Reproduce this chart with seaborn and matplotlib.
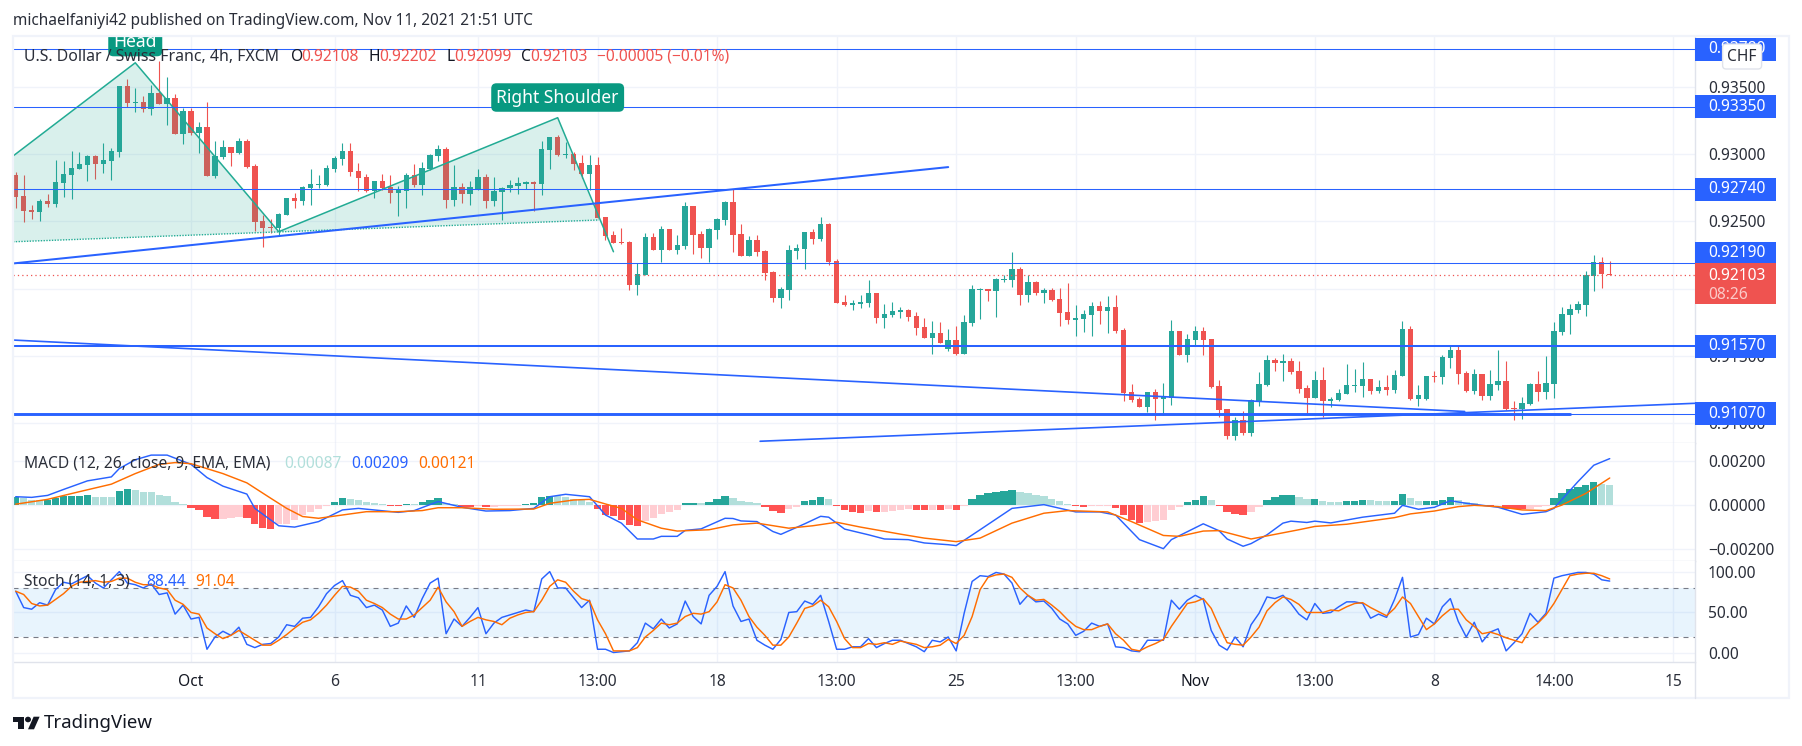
import numpy as np
import pandas as pd
import matplotlib
matplotlib.use("Agg")
import matplotlib.pyplot as plt
from matplotlib.lines import Line2D
from matplotlib.patches import Rectangle, Polygon, Ellipse, FancyBboxPatch
import seaborn as sns

# candles (4h bars)
opens = [
    .92847, .92689, .92585, .92570, .92651, .92629, .92785, .92844, .92889, .92919,
    .92986, .92926, .92948, .93015, .93506, .93379, .93387, .93335, .93454, .93372,
    .93416, .93149, .93320, .93156, .93201, .92837, .92978, .93052, .93008, .93097,
    .92911, .92503, .92458, .92451, .92547, .92674, .92651, .92748, .92770, .92770,
    .92889, .92963, .93022, .92874, .92829, .92725, .92800, .92755, .92710, .92725,
    .92844, .92770, .92889, .92985, .93037, .92658, .92755, .92703, .92740, .92829,
    .92651, .92718, .92748, .92762, .92777, .92792, .92777, .93030, .93126, .92995,
    .93000, .92933, .92852, .92918, .92532, .92398, .92346, .92346, .92027, .92101,
    .92383, .92287, .92443, .92287, .92316, .92614, .92406, .92302, .92435, .92510,
    .92643, .92406, .92242, .92361, .92279, .92123, .91930, .91990, .92279, .92294,
    .92420, .92368, .92480, .92205, .91900, .91878, .91886, .91893, .91967, .91782,
    .91804, .91826, .91841, .91796, .91715, .91633, .91670, .91551, .91618, .91514,
    .91744, .91990, .91997, .91982, .92064, .92064, .92146, .91952, .92049, .91967,
    .91990, .91923, .91826, .91767, .91774, .91804, .91871, .91834, .91863, .91692,
    .91232, .91180, .91121, .91232, .91180, .91187, .91685, .91507, .91618, .91685,
    .91626, .91276, .91106, .90905, .91024, .90928, .91165, .91284, .91470, .91448,
    .91462, .91388, .91262, .91188, .91321, .91165, .91173, .91217, .91277, .91277,
    .91329, .91240, .91269, .91247, .91351, .91700, .91180, .91180, .91351, .91344,
    .91485, .91544, .91373, .91240, .91366, .91202, .91284, .91314, .91113, .91106,
    .91141, .91291, .91232, .91291, .91678, .91804, .91841, .91878, .92094, .92195, .92108,
]
highs = [
    .92867, .92844, .92622, .92664, .92701, .92956, .92948, .93020, .93013, .92991,
    .92993, .93080, .93043, .93506, .93558, .93491, .93431, .93513, .93691, .93572,
    .93446, .93340, .93340, .93238, .93387, .93097, .93104, .93052, .93119, .93112,
    .92926, .92547, .92518, .92562, .92674, .92711, .92763, .92889, .92844, .92918,
    .92985, .93082, .93082, .92933, .92852, .92800, .92852, .92844, .92762, .92859,
    .92926, .92941, .93000, .93067, .93052, .92918, .92785, .92800, .92889, .92852,
    .92829, .92755, .92807, .92829, .92800, .92800, .93097, .93126, .93141, .93089,
    .93015, .92993, .92993, .92978, .92532, .92428, .92450, .92354, .92190, .92413,
    .92413, .92465, .92443, .92398, .92643, .92614, .92428, .92450, .92524, .92651,
    .92740, .92480, .92391, .92398, .92287, .92131, .92012, .92324, .92331, .92420,
    .92443, .92532, .92487, .92220, .91952, .91915, .91952, .92064, .91967, .91886,
    .91900, .91863, .91848, .91826, .91782, .91759, .91752, .91700, .91722, .91804,
    .92027, .92004, .91997, .92079, .92101, .92272, .92160, .92101, .92056, .92004,
    .92004, .92004, .92042, .91878, .91841, .91900, .91908, .91945, .91952, .91707,
    .91291, .91195, .91232, .91254, .91299, .91767, .91685, .91663, .91722, .91715,
    .91626, .91321, .91106, .91047, .91091, .91180, .91381, .91507, .91485, .91515,
    .91485, .91462, .91284, .91388, .91418, .91195, .91255, .91440, .91403, .91455,
    .91329, .91321, .91358, .91396, .91760, .91722, .91284, .91351, .91388, .91507,
    .91574, .91581, .91388, .91403, .91366, .91396, .91544, .91462, .91165, .91195,
    .91297, .91388, .91499, .91752, .91863, .91886, .91908, .92131, .92250, .92235, .92202,
]
lows = [
    .92602, .92498, .92518, .92505, .92609, .92609, .92684, .92669, .92889, .92802,
    .92815, .92859, .92810, .92981, .93350, .93312, .93312, .93290, .93372, .93216,
    .93149, .93075, .93142, .93008, .92837, .92822, .92963, .92911, .93001, .92896,
    .92428, .92310, .92414, .92399, .92547, .92599, .92622, .92621, .92748, .92762,
    .92866, .92918, .92837, .92725, .92718, .92673, .92733, .92636, .92540, .92599,
    .92755, .92696, .92881, .92948, .92599, .92614, .92636, .92621, .92733, .92599,
    .92614, .92510, .92718, .92703, .92740, .92577, .92696, .92889, .92985, .92970,
    .92881, .92822, .92733, .92525, .92361, .92339, .92331, .91990, .91952, .92101,
    .92287, .92198, .92287, .92257, .92294, .92257, .92227, .92198, .92368, .92472,
    .92272, .92242, .92242, .92242, .92064, .91900, .91856, .91915, .92220, .92146,
    .92331, .92354, .92175, .91893, .91871, .91841, .91856, .91863, .91744, .91707,
    .91789, .91782, .91759, .91655, .91633, .91514, .91596, .91537, .91507, .91514,
    .91722, .91774, .91908, .91789, .92049, .92012, .91878, .91900, .91952, .91893,
    .91908, .91722, .91737, .91648, .91678, .91648, .91737, .91670, .91670, .91165,
    .91158, .91121, .91083, .91024, .91061, .91135, .91507, .91455, .91574, .91507,
    .91262, .91046, .90883, .90876, .90913, .90905, .91128, .91277, .91388, .91314,
    .91366, .91225, .91061, .91188, .91047, .91121, .91165, .91217, .91232, .91195,
    .91217, .91225, .91210, .91225, .91351, .91173, .91128, .91173, .91306, .91292,
    .91410, .91292, .91232, .91217, .91173, .91173, .91247, .91099, .91024, .91032,
    .91135, .91165, .91180, .91187, .91655, .91663, .91819, .91796, .91982, .92004, .92099,
]
closes = [
    .92684, .92577, .92572, .92649, .92632, .92792, .92852, .92896, .92926, .92986,
    .92926, .92956, .93023, .93506, .93379, .93387, .93335, .93454, .93372, .93416,
    .93149, .93320, .93156, .93201, .92837, .92986, .93052, .93008, .93097, .92904,
    .92495, .92451, .92451, .92555, .92674, .92651, .92755, .92777, .92777, .92896,
    .92970, .93022, .92866, .92822, .92725, .92800, .92748, .92710, .92733, .92844,
    .92770, .92896, .92993, .93037, .92658, .92755, .92703, .92755, .92829, .92651,
    .92725, .92748, .92770, .92785, .92792, .92777, .93037, .93126, .92993, .93000,
    .92926, .92852, .92918, .92525, .92391, .92339, .92339, .92027, .92109, .92383,
    .92287, .92443, .92287, .92324, .92614, .92398, .92302, .92443, .92517, .92643,
    .92398, .92242, .92361, .92272, .92116, .91930, .91997, .92287, .92302, .92420,
    .92368, .92480, .92198, .91893, .91878, .91893, .91900, .91967, .91782, .91811,
    .91834, .91841, .91789, .91707, .91633, .91670, .91596, .91618, .91514, .91752,
    .91997, .91997, .91982, .92071, .92071, .92146, .91952, .92049, .91967, .91990,
    .91915, .91819, .91767, .91782, .91811, .91871, .91834, .91863, .91685, .91225,
    .91173, .91121, .91232, .91180, .91195, .91685, .91507, .91626, .91685, .91618,
    .91269, .91098, .90905, .91024, .90928, .91173, .91292, .91470, .91448, .91462,
    .91381, .91255, .91188, .91321, .91165, .91180, .91225, .91284, .91284, .91329,
    .91240, .91269, .91247, .91358, .91700, .91180, .91210, .91351, .91344, .91492,
    .91544, .91366, .91240, .91366, .91202, .91292, .91314, .91106, .91106, .91151,
    .91291, .91232, .91299, .91685, .91811, .91848, .91886, .92101, .92195, .92106, .92103,
]

# MACD, in units of 0.00001
macd_hist = [
    33, 30, 21, 20, 21, 30, 39, 41, 41, 44,
    36, 35, 33, 60, 69, 66, 59, 57, 45, 41,
    14, 3, -15, -23, -56, -65, -63, -60, -57, -60,
    -86, -105, -110, -90, -86, -71, -45, -33, -18, -8,
    14, 30, 24, 20, 12, 8, 3, -5, -6, 3,
    2, 11, 21, 30, 8, 5, -11, -12, -6, -12,
    -9, -8, -6, -5, 3, 8, 36, 39, 38, 35,
    27, 21, 12, -21, -45, -51, -71, -93, -98, -75,
    -60, -42, -35, -26, 6, 7, 6, 11, 24, 39,
    29, 15, 12, 8, -12, -30, -39, -21, -9, 15,
    23, 33, 24, -6, -26, -35, -36, -30, -35, -33,
    -30, -26, -21, -23, -26, -24, -26, -21, -23, -8,
    24, 42, 51, 57, 63, 68, 59, 54, 45, 38,
    27, 17, 3, -6, -11, -8, -6, -5, -15, -45,
    -68, -83, -80, -75, -69, -24, -9, 14, 23, 38,
    20, -5, -35, -41, -48, -33, -12, 20, 33, 42,
    44, 35, 26, 27, 15, 14, 12, 17, 18, 20,
    19, 18, 15, 18, 48, 29, 15, 17, 18, 23,
    33, 23, 12, 9, -5, -6, -3, -18, -20, -21,
    -18, -11, -8, 29, 51, 71, 78, 90, 101, 96, 87,
]
macd_bars = [0, 2, 4, 6, 9, 12, 13, 15, 17, 19, 22, 24, 26, 29, 30, 33, 35, 38, 41, 43,
             48, 50, 53, 56, 59, 62, 65, 67, 69, 72, 74, 76, 78, 80, 81, 83, 84, 86, 89,
             90, 91, 93, 95, 96, 99, 101, 102, 104, 107, 109, 112, 114, 117, 118, 121,
             125, 129, 133, 136, 138, 141, 144, 145, 149, 151, 152, 154, 155, 157, 159,
             160, 162, 163, 165, 169, 173, 174, 176, 178, 180, 182, 186, 189, 192, 193,
             196, 198, 200]
macd_line = [36, 33, 42, 69, 108, 126, 164, 204, 225, 225, 183, 123, 84, 48, -17, -96, -102,
             -77, -24, -17, -35, -27, 14, -12, -29, -27, -17, 36, 47, 36, -47, -84, -156,
             -156, -144, -144, -117, -110, -62, -63, -74, -77, -122, -135, -87, -53, -57,
             -111, -137, -156, -159, -174, -182, -186, -114, -17, 0, -33, -33, -47, -159,
             -200, -159, -87, -119, -156, -189, -177, -137, -84, -75, -81, -75, -83, -57,
             -39, -3, -21, -12, 18, 6, -12, -44, -32, -17, 104, 179, 209]
signal_bars = [0, 4, 8, 12, 15, 18, 20, 22, 26, 29, 32, 34, 36, 38, 41, 44, 48, 51, 53, 56,
               60, 65, 67, 70, 72, 74, 76, 78, 81, 83, 87, 90, 93, 97, 100, 103, 106, 111,
               114, 118, 121, 125, 129, 132, 137, 140, 144, 146, 149, 151, 155, 161, 163,
               167, 173, 175, 178, 181, 183, 186, 189, 192, 194, 197, 200]
signal_line = [2, 24, 59, 93, 141, 183, 191, 186, 141, 99, 29, -17, -54, -62, -47, -32, -32,
               -27, -14, -14, -21, -20, 6, 21, 24, 3, -17, -69, -107, -120, -114, -92, -84,
               -107, -96, -80, -102, -134, -152, -168, -152, -84, -39, -27, -33, -77, -140,
               -144, -120, -118, -156, -114, -99, -89, -59, -42, -29, -9, -3, -9, -24, -27,
               -2, 51, 121]

# stochastic
stoch_k = [
    76, 56, 54, 62, 59, 78, 87, 85, 90, 95,
    86, 80, 90, 100, 86, 84, 80, 85, 72, 74,
    48, 59, 42, 44, 5, 20, 27, 22, 32, 11,
    7, 11, 12, 20, 35, 33, 43, 44, 57, 73,
    83, 89, 71, 68, 56, 59, 53, 33, 37, 58,
    44, 67, 86, 92, 24, 42, 33, 44, 56, 24,
    37, 44, 47, 50, 53, 51, 91, 100, 80, 80,
    68, 56, 65, 5, 5, 1, 2, 3, 13, 37,
    30, 42, 31, 36, 64, 45, 36, 71, 82, 100,
    58, 39, 42, 16, 10, 5, 17, 50, 51, 64,
    60, 71, 39, 5, 5, 8, 8, 18, 7, 12,
    16, 16, 12, 8, 2, 16, 14, 20, 3, 49,
    88, 95, 94, 99, 97, 86, 60, 71, 63, 64,
    55, 42, 36, 22, 27, 37, 33, 36, 8, 7,
    3, 2, 16, 16, 16, 65, 54, 65, 71, 66,
    28, 10, 4, 20, 8, 35, 49, 69, 67, 71,
    61, 48, 41, 61, 49, 50, 57, 63, 63, 61,
    43, 48, 44, 66, 93, 20, 23, 43, 36, 57,
    67, 39, 20, 38, 14, 26, 30, 3, 13, 24,
    49, 38, 49, 92, 95, 97, 99, 99, 97, 90, 88.44,
]
stoch_d = [
    76, 72, 61, 58, 59, 66, 73, 82, 87, 88,
    89, 87, 88, 92, 92, 87, 84, 84, 80, 78,
    65, 60, 50, 48, 31, 24, 18, 22, 28, 22,
    16, 10, 10, 16, 23, 31, 38, 41, 49, 59,
    71, 82, 81, 76, 65, 61, 56, 48, 42, 42,
    47, 56, 65, 81, 63, 51, 33, 39, 44, 41,
    39, 35, 43, 47, 50, 51, 65, 82, 90, 87,
    76, 67, 64, 41, 24, 3, 3, 3, 7, 20,
    28, 37, 35, 37, 45, 49, 48, 51, 63, 84,
    80, 65, 45, 32, 22, 10, 10, 20, 37, 55,
    58, 65, 57, 39, 18, 7, 7, 12, 11, 13,
    11, 15, 13, 11, 7, 8, 10, 17, 12, 22,
    45, 78, 93, 96, 97, 93, 80, 71, 65, 66,
    59, 51, 41, 33, 29, 29, 33, 36, 24, 16,
    5, 3, 8, 12, 17, 33, 47, 61, 63, 67,
    55, 33, 13, 11, 10, 20, 32, 52, 62, 69,
    66, 60, 50, 50, 50, 53, 52, 57, 61, 62,
    56, 51, 46, 55, 69, 61, 45, 29, 36, 46,
    54, 54, 41, 33, 24, 26, 23, 19, 16, 13,
    29, 37, 47, 61, 78, 95, 97, 98, 98, 95, 91.04,
]

# chart furniture
level_prices = [.93780, .93350, .92740, .92190, .91570, .91070]
level_labels = ["0.93780", "0.93350", "0.92740", "0.92190", "0.91570", "0.91070"]
level_widths = [0.75, 0.75, 0.75, 0.75, 1.45, 0.75]
# the 0.92190 tag gets pushed up by the last price tag
tag_shift_px = [0, 0, 0, 10, 0, 0]
price_ticks = [.935, .93, .925, .92, .915, .91]
price_ticklabels = ["0.93500", "0.93000", "0.92500", "0.92000", "0.91500", "0.91000"]
macd_ticks = [.002, 0, -.002]
macd_ticklabels = ["0.00200", "0.00000", "\u22120.00200"]
stoch_ticks = [100, 50, 0]
stoch_ticklabels = ["100.00", "50.00", "0.00"]
time_ticks = [22, 40, 58, 73, 88, 103, 118, 133, 148, 163, 178, 193, 208]
time_labels = ["Oct", "6", "11", "13:00", "18", "13:00", "25", "13:00", "Nov", "13:00", "8", "14:00", "15"]

pattern_bars = [-0.34, 15, 33, 68, 73.2]
pattern_prices = [.92985, .93678, .92423, .93270, .92510]
pattern_end = (75, .92274)
neckline_bars = [-0.34, 73.2]
neckline_prices = [.92348, .92510]
trend_a = ([-0.34, 117], [.92187, .92903])
trend_b = ([-0.34, 181.8], [.91618, .91087])
trend_c = ([93.4, 210.7], [.90866, .91148])

BLUE = "#2962ff"
GREEN = "#26a69a"
RED = "#ef5350"
TEAL = "#22ab94"
ORANGE = "#ff6d00"
INK = "#131722"
GRID = "#f0f3fa"
EDGE = "#e0e3eb"

sns.set_theme(style="white")
plt.rcParams["font.family"] = ["Noto Sans", "DejaVu Sans"]

W, H = 1802, 746
fig = plt.figure(figsize=(W / 100, H / 100), dpi=100, facecolor="white")


def pane(left, top, right, bottom, **kw):
    return fig.add_axes([left / W, 1 - bottom / H, (right - left) / W, (bottom - top) / H], **kw)


def fx(x):
    return x / W


def fy(y):
    return 1 - y / H


def ftext(x, y, s, **kw):
    kw.setdefault("fontsize", 11.2)
    kw.setdefault("color", INK)
    kw.setdefault("va", "center")
    return fig.text(fx(x), fy(y), s, **kw)


ax = pane(13, 36, 1695, 443)
ax_macd = pane(13, 443, 1695, 561, sharex=ax)
ax_stoch = pane(13, 561, 1695, 662, sharex=ax)

bars = np.arange(len(closes))
o, h, l, c = map(np.array, (opens, highs, lows, closes))
up = c >= o

# candles
ax.vlines(bars, l, h, colors=np.where(up, GREEN, RED), linewidth=0.8, zorder=2)
ax.bar(bars, np.abs(c - o), bottom=np.minimum(o, c), width=0.68,
       color=np.where(up, GREEN, RED), linewidth=0, zorder=3)

# head and shoulders drawing
ax.fill(pattern_bars + neckline_bars[:1], pattern_prices + neckline_prices[:1],
        color=TEAL, alpha=0.17, linewidth=0, zorder=4)
ax.plot(pattern_bars[:4] + [pattern_end[0]], pattern_prices[:4] + [pattern_end[1]],
        color=TEAL, linewidth=1.1, zorder=5)
ax.plot(neckline_bars, neckline_prices, color=TEAL, linewidth=1.0, linestyle=(0, (1, 1)), zorder=5)

# horizontal levels and trend lines
for price, width in zip(level_prices, level_widths):
    ax.axhline(price, color=BLUE, linewidth=width, zorder=6)
ax.plot([-0.34, 195], [.91066, .91066], color=BLUE, linewidth=2.1, zorder=6)
ax.plot(*trend_a, color=BLUE, linewidth=1.45, zorder=6)
for xs, ys in (trend_b, trend_c):
    ax.plot(xs, ys, color=BLUE, linewidth=1.2, zorder=6)
ax.axhline(closes[-1], color=RED, linewidth=0.9, linestyle=(0, (1, 2.5)), zorder=6)

# pattern labels
label_box = dict(boxstyle="round,pad=0.3", fc="#089981", ec="none")
ax.text(15, .93832, "Head", color="white", fontsize=12.6, ha="center", va="center",
        bbox=label_box, clip_on=True, zorder=8)
ax.text(68, .93270 + 0.00150, "Right Shoulder", color="white", fontsize=12.6, ha="center",
        va="center", bbox=label_box, zorder=8)

ax.set_ylim(.90853, .93877)

# price tags on the scale
per_px = (.93877 - .90853) / (443 - 36)
tag_trans = ax.get_yaxis_transform()
tag_w = 81 / 1682
text_x = 1 + 13 / 1682
for price, label, shift in zip(level_prices, level_labels, tag_shift_px):
    half = 11.5 * per_px
    mid = price + shift * per_px
    ax.add_patch(Rectangle((1, mid - half), tag_w, 2 * half, transform=tag_trans,
                           facecolor=BLUE, edgecolor="none", clip_on=False, zorder=10))
    ax.text(text_x, mid, label, transform=tag_trans, color="white", fontsize=11.2,
            va="center", clip_on=False, zorder=11)
last = closes[-1]
ax.add_patch(Rectangle((1, last - 29.5 * per_px), tag_w, 41 * per_px, transform=tag_trans,
                       facecolor=RED, edgecolor="none", clip_on=False, zorder=10))
ax.text(text_x, last - 1 * per_px, "0.92103", transform=tag_trans, color="white", fontsize=11.2,
        va="center", clip_on=False, zorder=11)
ax.text(text_x, last - 20 * per_px, "08:26", transform=tag_trans, color="#fbc9c7", fontsize=11.2,
        va="center", clip_on=False, zorder=11)

# MACD pane
hist = np.array(macd_hist) / 1e5
kinds = []
for i, v in enumerate(hist):
    prev = hist[i - 1] if i else 0
    if v >= 0:
        kinds.append("pos_up" if v >= prev else "pos_down")
    else:
        kinds.append("neg_down" if v <= prev else "neg_up")
hist_df = pd.DataFrame({"bar": bars, "hist": hist, "kind": kinds})
hist_palette = {"pos_up": GREEN, "pos_down": "#b2dfdb", "neg_down": "#ff5252", "neg_up": "#ffcdd2"}
sns.barplot(data=hist_df, x="bar", y="hist", hue="kind", palette=hist_palette, native_scale=True,
            dodge=False, width=0.92, saturation=1, legend=False, linewidth=0, ax=ax_macd, zorder=2)
sns.lineplot(x=macd_bars, y=np.array(macd_line) / 1e5, color=BLUE, linewidth=1.05,
             estimator=None, ax=ax_macd, zorder=4)
sns.lineplot(x=signal_bars, y=np.array(signal_line) / 1e5, color=ORANGE, linewidth=1.05,
             estimator=None, ax=ax_macd, zorder=5)
ax_macd.set_ylim(-.00256, .0028)

# stochastic pane
ax_stoch.axhspan(20, 80, color="#2196f3", alpha=0.1, linewidth=0, zorder=1)
for level in (80, 20):
    ax_stoch.axhline(level, color="#787b86", linewidth=0.8, linestyle=(0, (4.5, 4.5)), zorder=3)
sns.lineplot(x=bars, y=stoch_k, color=BLUE, linewidth=1.05, estimator=None, ax=ax_stoch, zorder=4)
sns.lineplot(x=bars, y=stoch_d, color=ORANGE, linewidth=1.05, estimator=None, ax=ax_stoch, zorder=5)
ax_stoch.set_ylim(-10.6, 113)

# scales and grid
for a, ticks, labels in ((ax, price_ticks, price_ticklabels),
                         (ax_macd, macd_ticks, macd_ticklabels),
                         (ax_stoch, stoch_ticks, stoch_ticklabels)):
    a.set_xlabel("")
    a.set_ylabel("")
    a.yaxis.tick_right()
    a.set_yticks(ticks)
    a.set_yticklabels(labels)
    a.set_xticks(time_ticks)
    a.set_axisbelow(True)
    a.grid(True, color=GRID, linewidth=1.0)
    a.tick_params(axis="y", length=0, pad=9.4, labelsize=11.2, labelcolor="#2a2e39")
    for side in ("left", "top"):
        a.spines[side].set_visible(False)
    for side in ("right", "bottom"):
        a.spines[side].set_color(EDGE)
        a.spines[side].set_linewidth(1.0)
    for t in a.get_yticklabels():
        t.set_ha("left")

for a in (ax, ax_macd):
    a.tick_params(axis="x", length=0, labelbottom=False)
ax_stoch.set_xticklabels(time_labels)
ax_stoch.tick_params(axis="x", length=0, pad=8.6, labelsize=11.2, labelcolor="#2a2e39")
for t in ax_stoch.get_xticklabels():
    if t.get_text() in ("Oct", "Nov"):
        t.set_fontweight("bold")
        t.set_color(INK)
ax.set_xlim(-0.34, 210.7)

# frame around the whole chart
fig.add_artist(Rectangle((fx(12.5), fy(698)), (1789 - 12.5) / W, (698 - 35.5) / H,
                         transform=fig.transFigure, fill=False, edgecolor=GRID, linewidth=1.6))
fig.add_artist(Line2D([fx(1695)] * 2, [fy(662), fy(698)], color=EDGE, linewidth=1.0))

# legend texts
ftext(13, 20.7, "michaelfaniyi42 published on TradingView.com, Nov 11, 2021 21:51 UTC", fontsize=11.1, color="#2a2e39")
ftext(24, 56.7, "U.S. Dollar / Swiss Franc, 4h, FXCM", fontsize=11.4, color="#2a2e39")
for x, s, col in ((290.6, "O", INK), (301, "0.92108", RED), (368.5, "H", INK), (379.5, "0.92202", RED),
                  (446, "L", INK), (454, "0.92099", RED), (521, "C", INK), (530, "0.92103", RED),
                  (597, "\u22120.00005 (\u22120.01%)", RED)):
    ftext(x, 56.7, s, color=col)
ftext(24, 464, "MACD (12, 26, close, 9, EMA, EMA)", color="#2a2e39")
ftext(284.7, 464, "0.00087", color="#b2dfdb")
ftext(351, 464, "0.00209", color=BLUE)
ftext(418, 464, "0.00121", color=ORANGE)
ftext(24, 581.7, "Stoch (14, 1, 3)", color="#2a2e39")
ftext(146, 581.7, "88.44", color=BLUE)
ftext(195.7, 581.7, "91.04", color=ORANGE)

# currency button over the top tag
fig.add_artist(FancyBboxPatch((fx(1722.6), fy(69)), 39 / W, 25 / H, transform=fig.transFigure,
                              boxstyle="round,pad=0,rounding_size=0.002", facecolor="white",
                              edgecolor=EDGE, linewidth=1.0, zorder=12, mutation_aspect=W / H))
ftext(1742, 57, "CHF", ha="center", color="#2a2e39", zorder=13)

# TradingView logo
logo_x = lambda u: fx(13 + u * 0.75)
logo_y = lambda v: fy(716.7 + (v - 4) * 0.7)
fig.add_artist(Polygon([(logo_x(u), logo_y(v)) for u, v in
                        ((0, 4), (14, 4), (14, 22), (7, 22), (7, 11), (0, 11))],
                       transform=fig.transFigure, facecolor=INK, edgecolor="none"))
fig.add_artist(Polygon([(logo_x(u), logo_y(v)) for u, v in ((27.5, 4), (35.5, 4), (28, 22), (20, 22))],
                       transform=fig.transFigure, facecolor=INK, edgecolor="none"))
fig.add_artist(Ellipse((logo_x(20), logo_y(8)), 6 / W, 5.6 / H, transform=fig.transFigure,
                       facecolor=INK, edgecolor="none"))
ftext(44, 723, "TradingView", fontsize=13.4, color=INK)

fig.savefig("out.png", dpi=100, facecolor="white")
